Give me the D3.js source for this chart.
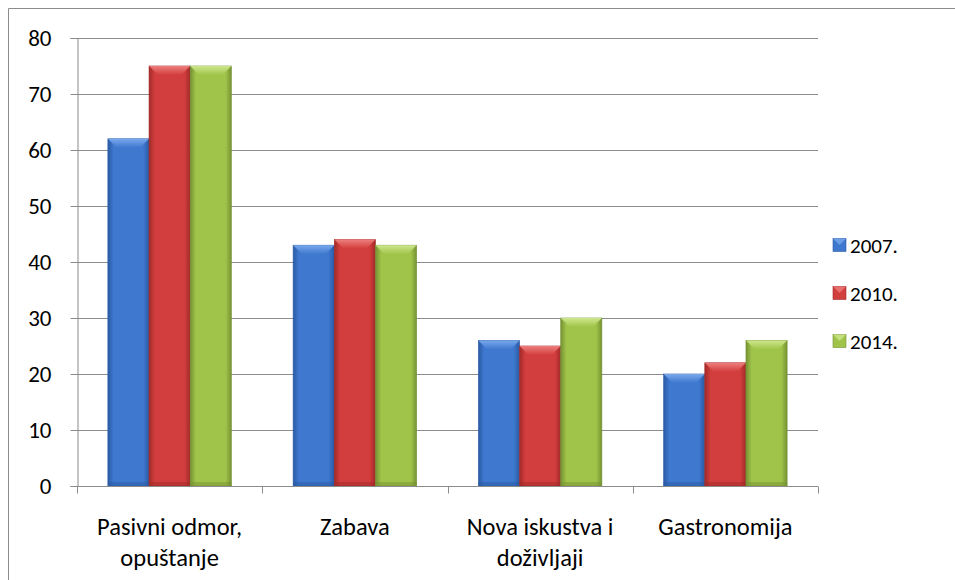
<!DOCTYPE html>
<html>
<head>
<meta charset="utf-8">
<script src="https://cdn.jsdelivr.net/npm/d3@7"></script>
<style>
  body { margin: 0; background: #fff; }
  text { font-family: Carlito, Calibri, Lato, "Open Sans", sans-serif; fill: #000; }
</style>
</head>
<body>
<div id="chart"></div>
<script>
// data
const categories = [['Pasivni odmor,', 'opuštanje'], ['Zabava'], ['Nova iskustva i', 'doživljaji'], ['Gastronomija']];
const years = ['2007.', '2010.', '2014.'];
const v2007 = [62, 43, 26, 20];
const v2010 = [75, 44, 25, 22];
const v2014 = [75, 43, 30, 26];
const yTicks = [0, 10, 20, 30, 40, 50, 60, 70, 80];

const seriesValues = [v2007, v2010, v2014];
const palette = [
    { base: '#3f78cf', light: '#80aef0', dark: '#2a5aa3' },
    { base: '#d23e3d', light: '#f08684', dark: '#a12a29' },
    { base: '#a0c44a', light: '#d3eb93', dark: '#759233' }
];

const width = 955, height = 580;
const margin = { left: 77, right: 137, top: 38, bottom: 94 };

const svg = d3.select('#chart').append('svg')
    .attr('width', width)
    .attr('height', height);

// outer frame (left + top edges visible)
svg.append('path')
    .attr('d', 'M8.5,580 V8.5 H955')
    .attr('fill', 'none')
    .attr('stroke', '#8c8c8c')
    .attr('stroke-width', 1);

const x0 = d3.scaleBand()
    .domain(d3.range(categories.length))
    .range([margin.left, width - margin.right])
    .paddingInner(0)
    .paddingOuter(0);

// three bars plus a gap of 1.5 bar widths
const x1 = d3.scaleBand()
    .domain(d3.range(years.length))
    .range([0, x0.bandwidth()])
    .paddingOuter(0.75)
    .paddingInner(0);

const y = d3.scaleLinear()
    .domain([0, 80])
    .range([height - margin.bottom, margin.top]);

// gradients for bevel look
const defs = svg.append('defs');
palette.forEach((c, i) => {
    const gh = defs.append('linearGradient').attr('id', 'grad' + i)
        .attr('x1', 0).attr('x2', 1).attr('y1', 0).attr('y2', 0);
    gh.append('stop').attr('offset', '0%').attr('stop-color', c.dark);
    gh.append('stop').attr('offset', '14%').attr('stop-color', c.base);
    gh.append('stop').attr('offset', '86%').attr('stop-color', c.base);
    gh.append('stop').attr('offset', '100%').attr('stop-color', c.dark);
    const gt = defs.append('linearGradient').attr('id', 'top' + i)
        .attr('x1', 0).attr('x2', 0).attr('y1', 0).attr('y2', 1);
    gt.append('stop').attr('offset', '0%').attr('stop-color', c.light);
    gt.append('stop').attr('offset', '100%').attr('stop-color', c.base);
});

// gridlines
svg.append('g')
    .selectAll('line')
    .data(yTicks.filter(d => d > 0))
    .join('line')
    .attr('x1', margin.left)
    .attr('x2', width - margin.right)
    .attr('y1', d => Math.round(y(d)) + 0.5)
    .attr('y2', d => Math.round(y(d)) + 0.5)
    .attr('stroke', '#8c8c8c');

// bars
const bevel = 9;
const groups = svg.append('g').selectAll('g')
    .data(categories.map((c, i) => i))
    .join('g')
    .attr('transform', i => `translate(${x0(i)},0)`);

const bars = groups.selectAll('g')
    .data(i => seriesValues.map((s, k) => ({ k, v: s[i] })))
    .join('g');

bars.append('rect')
    .attr('x', d => x1(d.k))
    .attr('y', d => y(d.v))
    .attr('width', x1.bandwidth())
    .attr('height', d => y(0) - y(d.v))
    .attr('fill', d => `url(#grad${d.k})`)
    .attr('stroke', d => palette[d.k].dark)
    .attr('stroke-width', 0.6);

// top bevel
bars.append('path')
    .attr('d', d => {
        const xa = x1(d.k), xb = xa + x1.bandwidth(), yt = y(d.v);
        return `M${xa},${yt} H${xb} L${xb - bevel},${yt + bevel} H${xa + bevel} Z`;
    })
    .attr('fill', d => `url(#top${d.k})`)
    .attr('opacity', 0.9);

// bottom shade
bars.append('rect')
    .attr('x', d => x1(d.k))
    .attr('y', y(0) - 4)
    .attr('width', x1.bandwidth())
    .attr('height', 4)
    .attr('fill', d => palette[d.k].dark)
    .attr('opacity', 0.5);

// y axis
const yAxis = svg.append('g')
    .attr('transform', `translate(${margin.left + 0.5},0)`)
    .call(d3.axisLeft(y).tickValues(yTicks).tickSize(7).tickPadding(19));
yAxis.select('.domain').attr('stroke', '#8c8c8c');
yAxis.selectAll('.tick line').attr('stroke', '#8c8c8c');
yAxis.selectAll('.tick text').attr('font-size', 23).attr('fill', '#000')
    .style('font-family', 'Carlito, Calibri, Lato, sans-serif');

// x axis line + ticks at category boundaries
const xAxisY = Math.round(y(0)) + 0.5;
svg.append('line')
    .attr('x1', margin.left).attr('x2', width - margin.right)
    .attr('y1', xAxisY).attr('y2', xAxisY)
    .attr('stroke', '#8c8c8c');
svg.append('g').selectAll('line')
    .data(d3.range(categories.length + 1))
    .join('line')
    .attr('x1', i => Math.round(margin.left + i * x0.bandwidth()) + 0.5)
    .attr('x2', i => Math.round(margin.left + i * x0.bandwidth()) + 0.5)
    .attr('y1', xAxisY).attr('y2', xAxisY + 7)
    .attr('stroke', '#8c8c8c');

// category labels
svg.append('g').selectAll('text')
    .data(categories)
    .join('text')
    .attr('text-anchor', 'middle')
    .attr('font-size', 24.5)
    .attr('x', (d, i) => x0(i) + x0.bandwidth() / 2)
    .attr('y', 535)
    .selectAll('tspan')
    .data(d => d)
    .join('tspan')
    .attr('x', function() { return d3.select(this.parentNode).attr('x'); })
    .attr('dy', (d, j) => j === 0 ? 0 : 31)
    .text(d => d);

// legend
const legend = svg.append('g').selectAll('g')
    .data(years)
    .join('g')
    .attr('transform', (d, i) => `translate(833,${245 + i * 48})`);
legend.append('rect')
    .attr('x', 0).attr('y', -6.5)
    .attr('width', 13).attr('height', 13)
    .attr('fill', (d, i) => palette[i].base)
    .attr('stroke', (d, i) => palette[i].dark)
    .attr('stroke-width', 0.6);
legend.append('path')
    .attr('d', 'M0,-6.5 H13 L6.5,0 Z')
    .attr('fill', (d, i) => palette[i].light)
    .attr('opacity', 0.7);
legend.append('text')
    .attr('x', 17).attr('y', 7.5)
    .attr('font-size', 21)
    .text(d => d);
</script>
</body>
</html>
